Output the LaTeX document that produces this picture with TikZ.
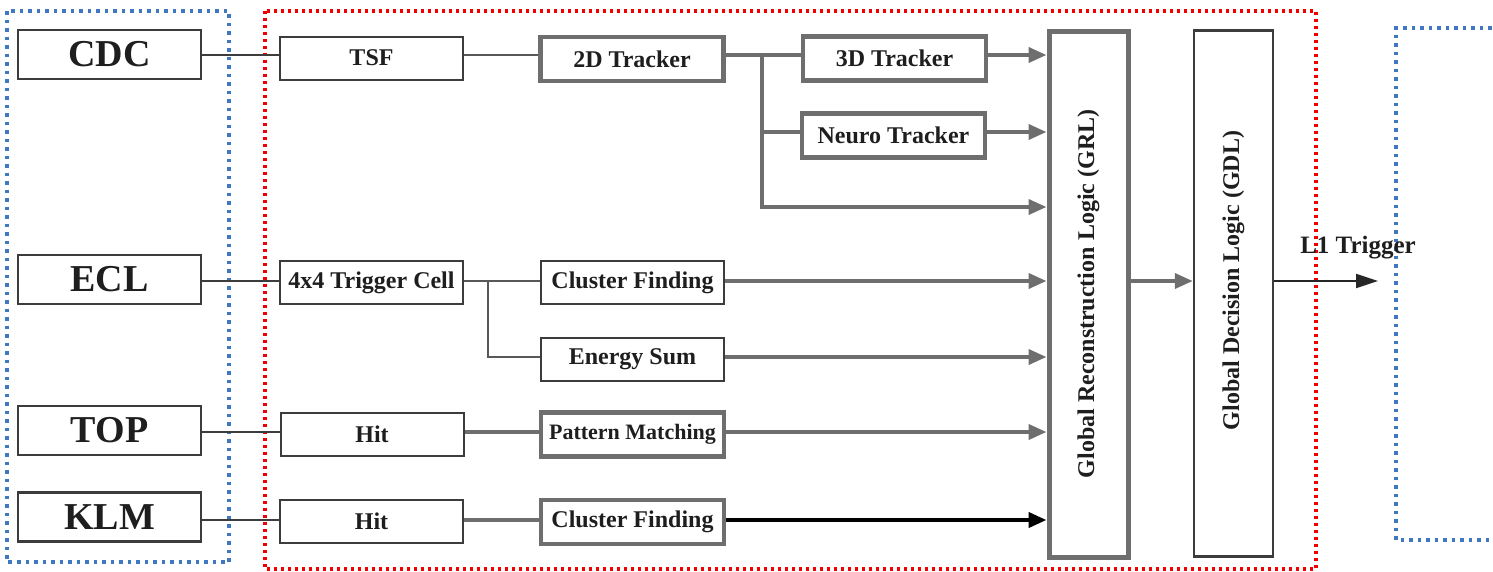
\documentclass[tikz,border=0pt]{standalone}
\usepackage{fontspec}
\usepackage{graphicx}
\setmainfont{Liberation Serif}
\usetikzlibrary{arrows.meta}

\definecolor{boxgray}{HTML}{6E6E6E}
\definecolor{linedark}{HTML}{3C3C3C}
\definecolor{dotblue}{HTML}{3F78C0}
\definecolor{dotred}{HTML}{F20000}
\definecolor{textdark}{HTML}{1E1E1E}

\tikzstyle{detector}=[draw=linedark,line width=2.4pt,minimum width=183pt,minimum height=49pt,inner sep=0pt,font=\fontsize{38}{40}\selectfont\bfseries,text=textdark]
\tikzstyle{thin block}=[draw=linedark,line width=2pt,minimum width=183pt,minimum height=43pt,inner sep=0pt,font=\fontsize{24}{26}\selectfont\bfseries,text=textdark]
\tikzstyle{thick block}=[thin block,draw=boxgray,line width=4.5pt,minimum height=44pt]
\tikzstyle{logic block}=[draw=boxgray,line width=5pt,minimum width=79pt,minimum height=526pt,inner sep=0pt,font=\fontsize{24}{26}\selectfont\bfseries,text=textdark]
\tikzstyle{decision block}=[logic block,draw=linedark,line width=2.5pt]
\tikzstyle{wire}=[draw=linedark,line width=1.6pt]
\tikzstyle{link}=[draw=boxgray!80!black,line width=2.2pt]
\tikzstyle{bus}=[draw=boxgray,line width=3.8pt]
\tikzstyle{bus arrow}=[bus,-{Triangle[length=18pt,width=15pt]}]
\tikzstyle{trigger arrow}=[draw=black,line width=4pt,-{Triangle[length=18pt,width=15pt]}]
\tikzstyle{output arrow}=[draw=black!85,line width=1.8pt,-{Triangle[length=22pt,width=14pt]}]
\tikzstyle{blue frame}=[draw=dotblue,line width=3.4pt,dash pattern=on 3.5pt off 5pt]
\tikzstyle{red frame}=[draw=dotred,line width=3.2pt,dash pattern=on 3pt off 4pt]

\begin{document}
\begin{tikzpicture}[x=1pt,y=-1pt]
    \useasboundingbox (0,0) rectangle (1493,571);
    % Dotted frames: detectors, trigger system, outside
    \path[blue frame] (7,11) rectangle (229,562);
    \path[red frame] (265,11) rectangle (1316,569);
    \path[blue frame] (1500,28) -- (1396,28) -- (1396,540) -- (1500,540);

    % Rows the signals run along
    \foreach \name/\y in {r1/55, r2/132, r3/207, r4/281, r5/357, r6/432, r7/520}
    \coordinate (\name) at (0,\y);
    \coordinate (j1) at (762,55);
    \coordinate (j2) at (488,281);
    \coordinate (l1end) at (1378,281);

    % First the detectors
    \foreach \pos/\name/\txt in {{(109.5,54.5)/cdc/CDC}, {(109.5,279.5)/ecl/ECL},
      {(109.5,430.5)/top/TOP}, {(109.5,517)/klm/KLM}}
    \node[detector] (\name) at \pos {\txt};

    % Sub-trigger blocks
    \foreach \pos/\name/\txt in {{(371.5,58)/tsf/TSF}, {(371.5,282.5)/tcell/4x4 Trigger Cell},
      {(372,434.5)/hittop/Hit}, {(371.5,521)/hitklm/Hit},
      {(632.5,282.5)/cfecl/Cluster Finding}, {(632.5,359.5)/esum/Energy Sum}}
    \node[thin block] (\name) at \pos {\txt};

    \foreach \pos/\name/\txt in {{(632,59)/trk2d/2D Tracker}, {(894.5,58.5)/trk3d/3D Tracker},
      {(893.5,135.5)/neuro/Neuro Tracker}, {(632.5,522)/cfklm/Cluster Finding}}
    \node[thick block] (\name) at \pos {\txt};
    \node[thick block,font=\fontsize{22}{24}\selectfont\bfseries] (patm) at (632.5,434.5) {Pattern Matching};

    % Global logic
    \node[logic block] (grl) at (1088.5,294) {\rotatebox{90}{Global Reconstruction Logic (GRL)}};
    \node[decision block] (gdl) at (1233.5,293.5) {\rotatebox{90}{\hspace*{26pt}Global Decision Logic (GDL)}};
    \node[font=\fontsize{25}{27}\selectfont\bfseries,text=textdark] (l1) at (1358,248) {L1 Trigger};

    % Connect detectors with sub-triggers
    \foreach \source/\dest/\row in {cdc/tsf/r1, ecl/tcell/r4, top/hittop/r6, klm/hitklm/r7}
    \path[wire] (\source.east |- \row) -- (\dest.west |- \row);
    \foreach \source/\dest/\row in {tsf/trk2d/r1, tcell/cfecl/r4}
    \path[link] (\source.east |- \row) -- (\dest.west |- \row);
    \path[link] (j2) |- (esum.west |- r5);
    \foreach \source/\dest/\row in {trk2d/trk3d/r1, hittop/patm/r6, hitklm/cfklm/r7}
    \path[bus] (\source.east |- \row) -- (\dest.west |- \row);
    \path[bus] (j1) |- (neuro.west |- r2);
    \path[bus arrow] (j1) |- (grl.west |- r3);

    % Everything goes into the GRL
    \foreach \source/\row in {trk3d/r1, neuro/r2, cfecl/r4, esum/r5, patm/r6}
    \path[bus arrow] (\source.east |- \row) -- (grl.west |- \row);
    \path[trigger arrow] (cfklm.east |- r7) -- (grl.west |- r7);
    \path[bus arrow] (grl.east |- r4) -- (gdl.west |- r4);
    \path[output arrow] (gdl.east |- r4) -- (l1end);
\end{tikzpicture}
\end{document}
